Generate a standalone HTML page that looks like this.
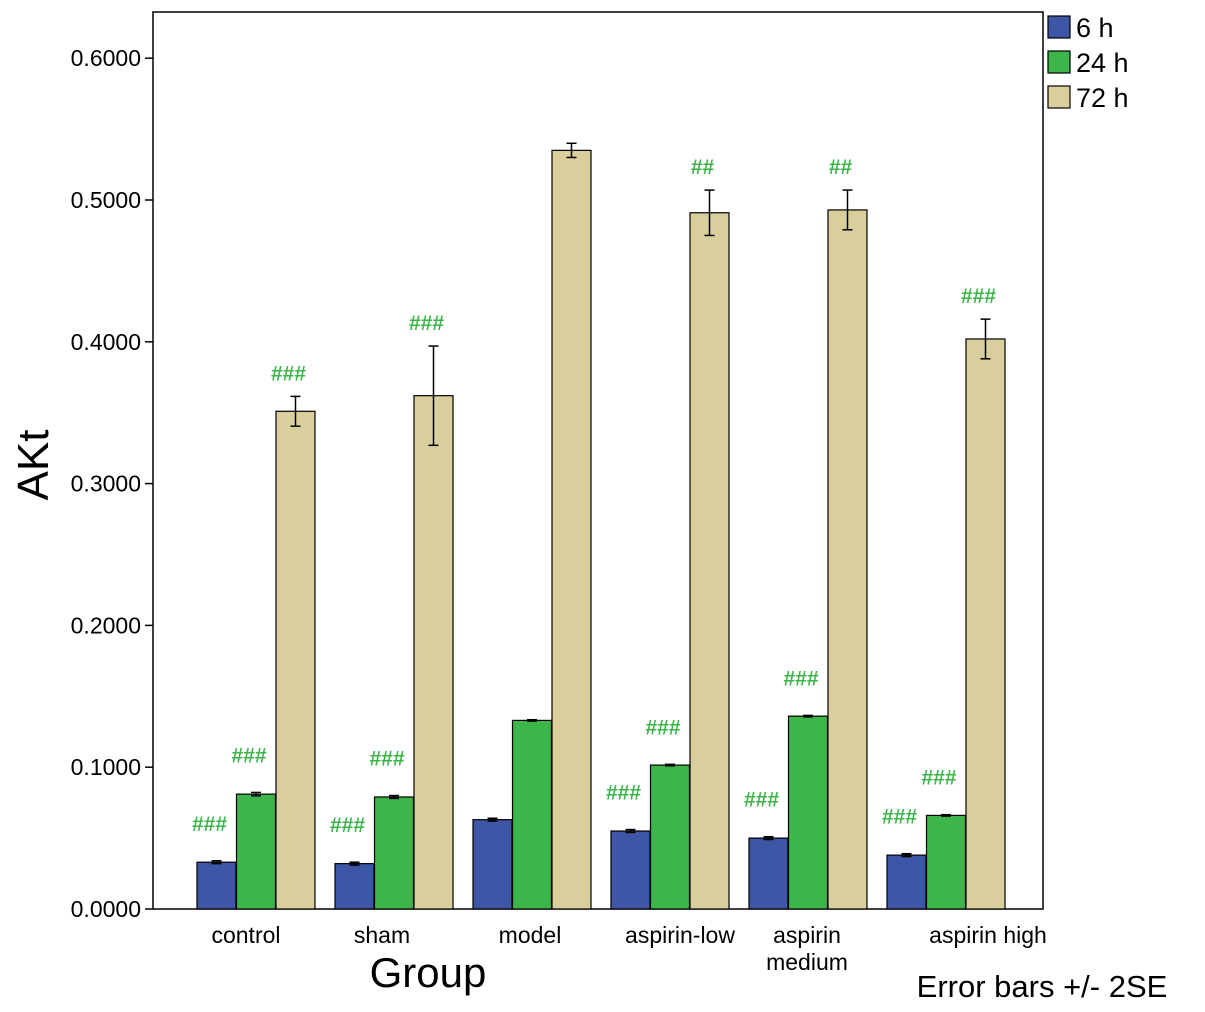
<!DOCTYPE html>
<html><head><meta charset="utf-8"><style>
body{margin:0;background:#fff;}
svg{display:block;font-family:"Liberation Sans",sans-serif;}
</style></head><body>
<svg id="chart" width="1205" height="1012"></svg>
<script>
const categories=["control","sham","model","aspirin-low","aspirin medium","aspirin high"];
const series=["6 h","24 h","72 h"];
const v6=[0.033,0.032,0.063,0.055,0.050,0.038];
const v24=[0.081,0.079,0.133,0.1015,0.136,0.066];
const v72=[0.351,0.362,0.535,0.491,0.493,0.402];
const e6=[0.001,0.001,0.001,0.001,0.001,0.001];
const e24=[0.0012,0.001,0.0005,0.0005,0.0005,0.0005];
const e72=[0.0105,0.035,0.005,0.016,0.014,0.014];
const ann6=["###","###","","###","###","###"];
const ann24=["###","###","","###","###","###"];
const ann72=["###","###","","##","##","###"];
const yTicks=[0,0.1,0.2,0.3,0.4,0.5,0.6];
const yTickLabels=["0.0000","0.1000","0.2000","0.3000","0.4000","0.5000","0.6000"];

const svg=document.getElementById('chart');
const NS='http://www.w3.org/2000/svg';
function mk(t,a,p){const e=document.createElementNS(NS,t);for(const k in a)e.setAttribute(k,a[k]);(p||svg).appendChild(e);return e;}
const L=153,R=1043,T=12,B=909;
const y=v=>B-v*1418;
const cx=i=>256+i*138;
const bw=39;
const colors=["#3d56a6","#3db54a","#d8cf9c"];
const annOff=[30,30,16];

let plot=mk('rect',{x:L,y:T,width:R-L,height:B-T,fill:'none',stroke:'#000','stroke-width':1.5});



yTicks.forEach((t,i)=>{
  const ln=mk('line',{x1:L-8,x2:L,y1:y(t),y2:y(t),stroke:'#000','stroke-width':1.5});
  
  
  const tx=mk('text',{x:L-12,y:y(t)+8,'text-anchor':'end','font-size':23});
  tx.textContent=yTickLabels[i];
  
  
});

const vals=[v6,v24,v72],errs=[e6,e24,e72],anns=[ann6,ann24,ann72];
categories.forEach((c,i)=>{
  for(let s=0;s<3;s++){
    const x0=cx(i)+(s-1.5)*bw+ (s-1)*0.5;
    const v=vals[s][i];
    const r=mk('rect',{x:x0,y:y(v),width:bw,height:B-y(v),fill:colors[s],stroke:'#000','stroke-width':1.2});
    
    
    const e=errs[s][i],mx=x0+bw/2;
    const g=mk('g',{stroke:'#000','stroke-width':1.5});
    
    
    mk('line',{x1:mx,x2:mx,y1:y(v+e),y2:y(v-e)},g);
    mk('line',{x1:mx-5,x2:mx+5,y1:y(v+e),y2:y(v+e)},g);
    mk('line',{x1:mx-5,x2:mx+5,y1:y(v-e),y2:y(v-e)},g);
    if(anns[s][i]){
      const a=mk('text',{x:mx-7,y:y(v+e)-annOff[s],'text-anchor':'middle','font-size':21,fill:'#3db54a','font-weight':'bold'});
      a.textContent=anns[s][i];
      
      
    }
  }
});
const labelLines=[["control"],["sham"],["model"],["aspirin-low"],["aspirin","medium"],["aspirin high"]];
const labelDx=[-10,-12,-2,10,-1,42];
labelLines.forEach((ls,i)=>{
  ls.forEach((t,j)=>{
    const tx=mk('text',{x:cx(i)+labelDx[i],y:943+j*27,'text-anchor':'middle','font-size':23});
    tx.textContent=t;
    
    
  });
});
let t=mk('text',{x:428,y:987,'text-anchor':'middle','font-size':42});t.textContent='Group';

t=mk('text',{x:48,y:465,'text-anchor':'middle','font-size':44,transform:'rotate(-90 48 465)'});t.textContent='AKt';

t=mk('text',{x:1042,y:997,'text-anchor':'middle','font-size':31});t.textContent='Error bars +/- 2SE';

series.forEach((s,i)=>{
  const g=mk('g',{});
  
  
  mk('rect',{x:1048,y:16+i*35,width:22,height:22,fill:colors[i],stroke:'#000','stroke-width':1.2},g);
  const tx=mk('text',{x:1076,y:37+i*35,'font-size':27},g);tx.textContent=s;
});
</script>
</body></html>
